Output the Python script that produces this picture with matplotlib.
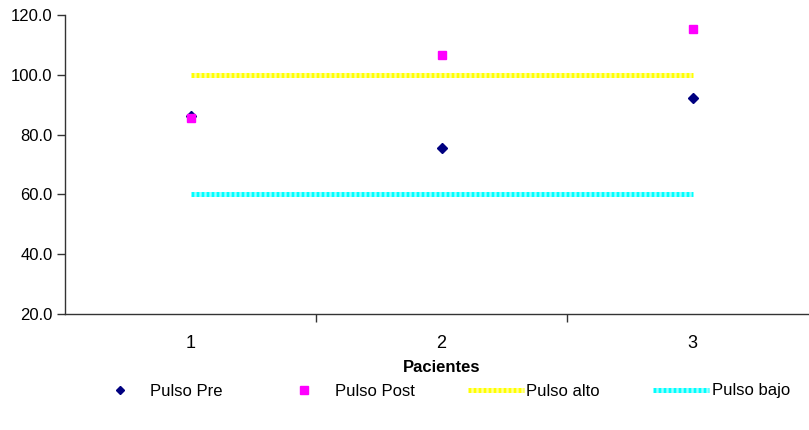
import matplotlib
matplotlib.use("Agg")
import matplotlib.pyplot as plt
from matplotlib.ticker import FixedLocator, FormatStrFormatter

plt.rcParams["font.family"] = ["Liberation Sans", "DejaVu Sans"]

# pulse readings per patient
pacientes = [1, 2, 3]
pulso_pre = [86.3, 75.5, 92.1]
pulso_post = [85.6, 106.6, 115.2]
pulso_alto = [100, 100, 100]
pulso_bajo = [60, 60, 60]

fig = plt.figure(figsize=(8.09, 4.30), dpi=100)
ax = fig.add_axes([65 / 809, 1 - 314 / 430, 753 / 809, 299 / 430])

#reference bands first so the points sit on top
ax.plot(pacientes, pulso_alto, color="#FFFF00", gapcolor="#FFFF99", lw=3.6,
        linestyle=(0, (0.6, 0.4)), label="Pulso alto", zorder=2)
ax.plot(pacientes, pulso_bajo, color="#00FFFF", gapcolor="#99FFFF", lw=3.6,
        linestyle=(0, (0.6, 0.4)), label="Pulso bajo", zorder=2)
ax.plot(pacientes, pulso_pre, "D", color="#000080", ms=5, ls="none",
        label="Pulso Pre", zorder=3)
ax.plot(pacientes, pulso_post, "s", color="#FF00FF", ms=6, ls="none",
        label="Pulso Post", zorder=3)

ax.set_xlim(0.5, 3.5)
ax.set_ylim(20, 120)
ax.set_yticks([20, 40, 60, 80, 100, 120])
ax.yaxis.set_major_formatter(FormatStrFormatter("%.1f"))
ax.set_xticks(pacientes)
ax.set_xticklabels(["1", "2", "3"])
ax.xaxis.set_minor_locator(FixedLocator([1.5, 2.5]))
ax.tick_params(axis="x", which="major", length=0, pad=15, labelsize=13)
ax.tick_params(axis="x", which="minor", length=6, width=1, color="#333333")
ax.tick_params(axis="y", length=6, width=1, color="#333333", labelsize=12, pad=3)

for side in ["top", "right"]:
    ax.spines[side].set_visible(False)
for side in ["left", "bottom"]:
    ax.spines[side].set_color("#333333")
    ax.spines[side].set_linewidth(1)

ax.set_xlabel("Pacientes", fontsize=12, fontweight="bold", labelpad=6)

#legend order: points first, then the bands
h, l = ax.get_legend_handles_labels()
order = [2, 3, 0, 1]
fig.legend([h[i] for i in order], [l[i] for i in order], ncol=4,
           loc="center", bbox_to_anchor=(441 / 809, 1 - 391 / 430),
           frameon=False, fontsize=12, handlelength=3.36, handletextpad=0.15,
           columnspacing=3.2, markerscale=0.9)

fig.savefig("out.png", dpi=100)
